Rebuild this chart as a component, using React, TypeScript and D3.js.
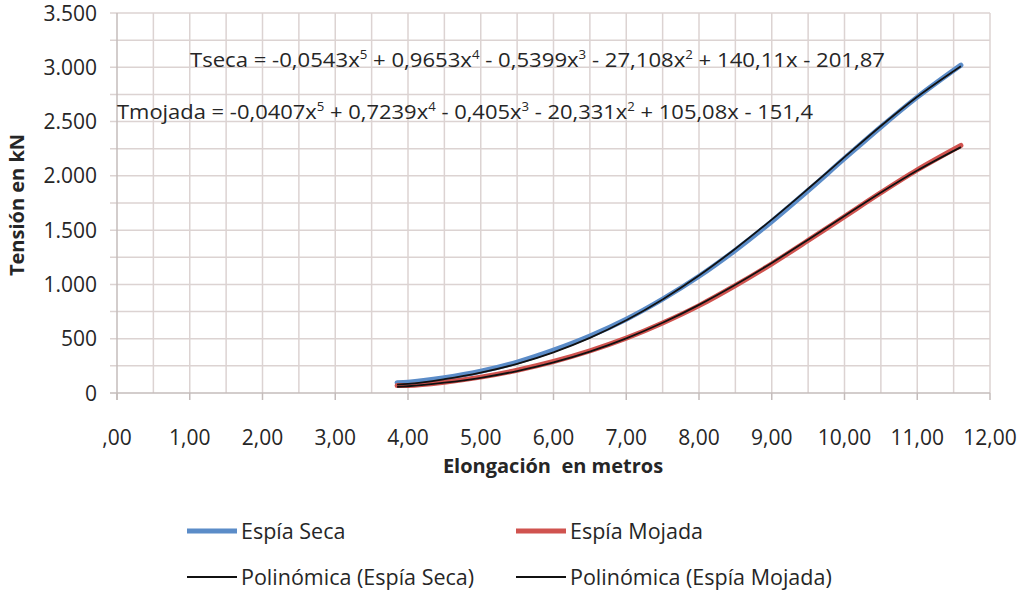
import React from 'react';
import * as d3 from 'd3';

// Elongación (m) at which the curves were read
const elongation = [3.85, 4, 4.5, 5, 5.5, 6, 6.5, 7, 7.5, 8, 8.5, 9, 9.5, 10, 10.5, 11, 11.6];

// Tensión (kN)
const secaValues = [95, 100, 140, 200, 285, 395, 525, 680, 865, 1075, 1315, 1580, 1865, 2160, 2450, 2725, 3020];
const mojadaValues = [68, 70, 100, 146, 210, 290, 388, 505, 645, 805, 990, 1190, 1405, 1625, 1845, 2055, 2280];
const trendSecaValues = [78, 84, 127, 187, 269, 375, 508, 670, 862, 1082, 1329, 1597, 1881, 2172, 2459, 2728, 3010];
const trendMojadaValues = [56, 62, 95, 140, 202, 281, 381, 503, 647, 812, 997, 1198, 1412, 1630, 1846, 2049, 2265];

const xTicks = [0, 1, 2, 3, 4, 5, 6, 7, 8, 9, 10, 11, 12];
const xTickLabels = [',00', '1,00', '2,00', '3,00', '4,00', '5,00', '6,00', '7,00', '8,00', '9,00', '10,00', '11,00', '12,00'];
const yTicks = [0, 500, 1000, 1500, 2000, 2500, 3000, 3500];
const yTickLabels = ['0', '500', '1.000', '1.500', '2.000', '2.500', '3.000', '3.500'];

const eqSeca = 'Tseca = -0,0543x^5 + 0,9653x^4 - 0,5399x^3 - 27,108x^2 + 140,11x - 201,87';
const eqMojada = 'Tmojada = -0,0407x^5 + 0,7239x^4 - 0,405x^3 - 20,331x^2 + 105,08x - 151,4';

const FONT = '"Open Sans", "Noto Sans", sans-serif';
const TEXT = '#262626';
const GRID = '#dcd3d2';
const BLUE = '#5b8cc8';
const RED = '#d0534f';

const x = d3.scaleLinear().domain([0, 12]).range([117, 990]);
const y = d3.scaleLinear().domain([0, 3500]).range([393, 13]);

const line = d3
  .line<[number, number]>()
  .x(d => x(d[0]))
  .y(d => y(d[1]))
  .curve(d3.curveMonotoneX);

const pairs = (vals: number[]) => elongation.map((e, i) => [e, vals[i]] as [number, number]);

// split "x^5" markers into superscript tspans
function Equation({ text, px, py, width }: { text: string; px: number; py: number; width: number }) {
  const parts = text.split(/\^(\d)/);
  return (
    <text x={px} y={py} fontFamily={FONT} fontSize={20} fill={TEXT} textLength={width} lengthAdjust="spacingAndGlyphs">
      {parts.map((p, i) =>
        i % 2 === 1 ? (
          <tspan key={i} fontSize={12} dy={-8}>{p}</tspan>
        ) : (
          <tspan key={i} dy={i === 0 ? 0 : 8}>{p}</tspan>
        )
      )}
    </text>
  );
}

export default function App() {
  const xGrid = d3.range(0.5, 12.01, 0.5);
  const yGrid = d3.range(250, 3501, 250);

  return (
    <svg width={1030} height={591} style={{ display: 'block', position: 'absolute', left: 0, top: 0 }}>
      <rect width={1030} height={591} fill="#ffffff" />

      {/* grid */}
      {xGrid.map(v => (
        <line key={'gx' + v} x1={x(v)} x2={x(v)} y1={y(3500)} y2={y(0)} stroke={GRID} strokeWidth={1.5} />
      ))}
      {yGrid.map(v => (
        <line key={'gy' + v} x1={110} x2={x(12)} y1={y(v)} y2={y(v)} stroke={GRID} strokeWidth={1.5} />
      ))}

      {/* axes */}
      <line x1={x(0)} x2={x(0)} y1={y(3500)} y2={y(0) + 7} stroke="#c4bcbb" strokeWidth={1.5} />
      <line x1={110} x2={x(12)} y1={y(0)} y2={y(0)} stroke="#c4bcbb" strokeWidth={1.5} />
      {xTicks.map(t => (
        <line key={'tx' + t} x1={x(t)} x2={x(t)} y1={y(0)} y2={y(0) + 7} stroke="#c4bcbb" strokeWidth={1.5} />
      ))}

      {/* tick labels */}
      {yTicks.map((t, i) => (
        <text key={'ly' + t} x={97} y={y(t)} dy="0.36em" textAnchor="end" fontFamily={FONT} fontSize={21} fill={TEXT}>
          {yTickLabels[i]}
        </text>
      ))}
      {xTicks.map((t, i) => (
        <text key={'lx' + t} x={x(t)} y={437} dy="0.36em" textAnchor="middle" fontFamily={FONT} fontSize={21} fill={TEXT}>
          {xTickLabels[i]}
        </text>
      ))}

      {/* axis titles */}
      <text x={553} y={466} dy="0.36em" textAnchor="middle" fontFamily={FONT} fontSize={20} fontWeight="bold" fill={TEXT} style={{ whiteSpace: 'pre' }}>
        {'Elongación  en metros'}
      </text>
      <text transform="translate(17,205) rotate(-90)" dy="0.36em" textAnchor="middle" fontFamily={FONT} fontSize={20} fontWeight="bold" fill={TEXT}>
        Tensión en kN
      </text>

      {/* series */}
      <path d={line(pairs(secaValues)) || ''} fill="none" stroke={BLUE} strokeWidth={5} strokeLinecap="round" />
      <path d={line(pairs(mojadaValues)) || ''} fill="none" stroke={RED} strokeWidth={5} strokeLinecap="round" />
      <path d={line(pairs(trendSecaValues)) || ''} fill="none" stroke="#111" strokeWidth={1.8} />
      <path d={line(pairs(trendMojadaValues)) || ''} fill="none" stroke="#111" strokeWidth={1.8} />

      {/* equations */}
      <Equation text={eqSeca} px={190} py={67} width={695} />
      <Equation text={eqMojada} px={117} py={119} width={696} />

      {/* legend */}
      <line x1={187} x2={237} y1={531} y2={531} stroke={BLUE} strokeWidth={5} />
      <text x={241} y={531} dy="0.36em" fontFamily={FONT} fontSize={21.5} fill={TEXT}>Espía Seca</text>
      <line x1={516} x2={566} y1={531} y2={531} stroke={RED} strokeWidth={5} />
      <text x={570} y={531} dy="0.36em" fontFamily={FONT} fontSize={21.5} fill={TEXT}>Espía Mojada</text>
      <line x1={187} x2={237} y1={577} y2={577} stroke="#111" strokeWidth={1.8} />
      <text x={241} y={577} dy="0.36em" fontFamily={FONT} fontSize={21.5} fill={TEXT}>Polinómica (Espía Seca)</text>
      <line x1={516} x2={566} y1={577} y2={577} stroke="#111" strokeWidth={1.8} />
      <text x={570} y={577} dy="0.36em" fontFamily={FONT} fontSize={21.5} fill={TEXT}>Polinómica (Espía Mojada)</text>
    </svg>
  );
}
